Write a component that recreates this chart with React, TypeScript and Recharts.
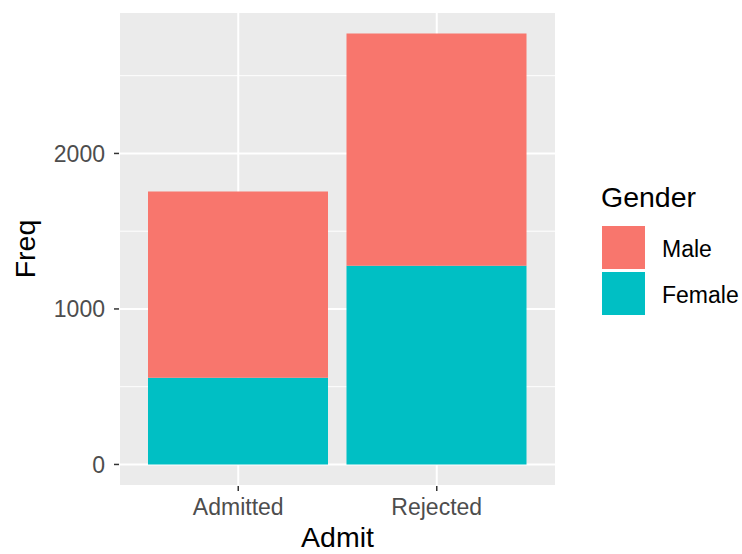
import {
  Bar,
  BarChart,
  CartesianGrid,
  XAxis,
  YAxis,
  Label,
} from "recharts";

document.body.style.margin = "0";

const admit = ["Admitted", "Rejected"];
const male = [1198, 1493];
const female = [557, 1278];
const yTicks = [0, 1000, 2000];
const yMinorTicks = [500, 1500, 2500];
const genders = ["Male", "Female"];
const genderColors: Record<string, string> = { Male: "#F8766D", Female: "#00BFC4" };

const data = admit.map((a, i) => ({ Admit: a, Male: male[i], Female: female[i] }));

const maxTotal = Math.max(...data.map((d) => d.Male + d.Female));
const pad = maxTotal * 0.05;
const yDomain = [-pad, maxTotal + pad];

const font = "'Liberation Sans', Arial, sans-serif";
const tickFont = 23;
const titleFont = 28.5;

function GenderLegend() {
  return (
    <div style={{ position: "absolute", left: 0, top: 0, fontFamily: font, color: "#000" }}>
      <div
        style={{ position: "absolute", left: 601, top: 181, fontSize: titleFont, lineHeight: "normal", whiteSpace: "nowrap" }}
      >
        Gender
      </div>
      {genders.map((g, i) => (
        <div
          key={g}
          style={{
            position: "absolute",
            left: 602,
            top: 226 + i * 46,
            height: 43,
            display: "flex",
            alignItems: "center",
            whiteSpace: "nowrap",
          }}
        >
          <div style={{ width: 43, height: 43, background: genderColors[g] }} />
          <span style={{ marginLeft: 17, fontSize: tickFont, lineHeight: 1, position: "relative", top: 2 }}>{g}</span>
        </div>
      ))}
    </div>
  );
}

export default function App() {
  return (
    <div style={{ position: "relative", width: 742, height: 554, background: "#fff", overflow: "hidden" }}>
      <BarChart
        width={742}
        height={554}
        data={data}
        margin={{ top: 12, right: 186, bottom: 0, left: 0 }}
      >
        <CartesianGrid
          yAxisId="minor"
          vertical={false}
          fill="#EBEBEB"
          stroke="#FFFFFF"
          strokeWidth={1}
        />
        <CartesianGrid yAxisId="main" stroke="#FFFFFF" strokeWidth={2} />
        <XAxis
          dataKey="Admit"
          height={68}
          padding={{ left: 20, right: 20 }}
          axisLine={false}
          tickSize={5}
          tickLine={{ stroke: "#333333", strokeWidth: 1.5 }}
          tick={{ fill: "#4D4D4D", fontSize: tickFont, fontFamily: font }}
          tickMargin={8}
        >
          <Label
            value="Admit"
            position="insideBottom"
            offset={7}
            style={{ fill: "#000", fontSize: titleFont, fontFamily: font }}
          />
        </XAxis>
        <YAxis
          yAxisId="main"
          width={119}
          domain={yDomain}
          ticks={yTicks}
          allowDataOverflow
          axisLine={false}
          tickSize={5}
          tickLine={{ stroke: "#333333", strokeWidth: 1.5 }}
          tick={{ fill: "#4D4D4D", fontSize: tickFont, fontFamily: font }}
          tickMargin={9}
        >
          <Label
            value="Freq"
            angle={-90}
            position="insideLeft"
            offset={25}
            style={{ fill: "#000", fontSize: titleFont, fontFamily: font, textAnchor: "middle" }}
          />
        </YAxis>
        <YAxis
          yAxisId="minor"
          hide
          domain={yDomain}
          ticks={yMinorTicks}
          allowDataOverflow
        />
        <Bar
          yAxisId="main"
          dataKey="Female"
          stackId="a"
          fill={genderColors.Female}
          barSize={180}
          isAnimationActive={false}
        />
        <Bar
          yAxisId="main"
          dataKey="Male"
          stackId="a"
          fill={genderColors.Male}
          barSize={180}
          isAnimationActive={false}
        />
      </BarChart>
      <GenderLegend />
    </div>
  );
}
